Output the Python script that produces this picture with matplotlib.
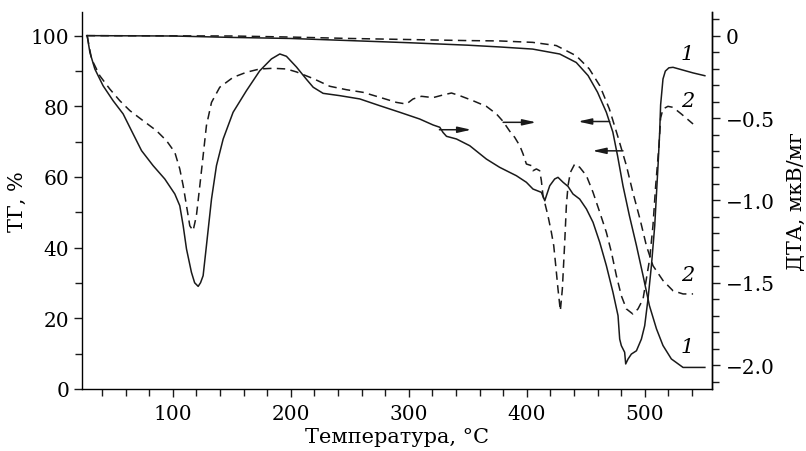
import matplotlib
matplotlib.use("Agg")
import matplotlib.pyplot as plt
from matplotlib.ticker import MultipleLocator

plt.rcParams['font.family'] = ['DejaVu Serif']
plt.rcParams['mathtext.fontset'] = 'dejavuserif'

# TG curves (left axis), %
t_tg1 = [27, 100, 150, 200, 250, 300, 350, 377, 405, 428, 442, 452, 460, 467.5, 473, 477,
         481.6, 487, 493, 498.6, 504, 510, 515.5, 522.6, 532.5, 551]
tg1 = [100, 99.9, 99.5, 99.2, 98.6, 98.0, 97.3, 96.8, 96.2, 94.8, 92.4, 88.7, 84.0, 78.3, 72.7, 66.0,
       57.5, 49.1, 40.6, 32.1, 23.6, 17.0, 12.3, 8.5, 6.1, 6.1]
t_tg2 = [27, 150, 200, 250, 300, 350, 377, 405, 425, 442, 453, 462, 470, 477, 484.5, 490,
         496, 501.4, 507, 515.5, 524, 532.5, 541]
tg2 = [100, 99.9, 99.6, 99.2, 98.9, 98.6, 98.5, 98.1, 97.2, 94.3, 90.6, 85.8, 79.3, 71.7, 63.2, 55.6,
       48.1, 40.6, 34.9, 30.7, 27.8, 26.9, 26.9]

# DTA curves (right axis), мкВ/мг
t_dta1 = [27.4, 29.7, 33.9, 40.9, 49.4, 57.9, 65, 73.5, 83.3, 93.2, 101.7, 105.9, 108.8, 111.6,
          115.8, 118.5, 121.5, 123.5, 125.7, 128.5, 132.8, 137, 142.7, 151.1, 162.4, 173.7, 183.6,
          190.7, 196.3, 204.8, 213.3, 219, 227.4, 241.5, 258.5, 275.4, 292.4, 309.3, 320.6, 326.3,
          329, 332, 340.4, 351.7, 365.8, 377, 385.6, 391.2, 399.7, 405.3, 412.4, 415.3, 416.7,
          419.5, 423.7, 426.5, 430.8, 435, 439.2, 444.9, 450.6, 456.2, 461.9, 467.5, 473.1, 477.4,
          478.8, 480.2, 483, 483.9, 485.9, 488.7, 493, 497.2, 500, 502.8, 505.7, 508.5, 511.3,
          512.7, 513.5, 515.5, 517.5, 520.5, 524, 531, 541, 551]
dta1 = [0, -0.101, -0.202, -0.304, -0.395, -0.475, -0.577, -0.698, -0.789, -0.870, -0.961, -1.032,
        -1.154, -1.295, -1.437, -1.500, -1.522, -1.500, -1.457, -1.275, -0.992, -0.789, -0.627,
        -0.465, -0.334, -0.213, -0.141, -0.111, -0.125, -0.190, -0.265, -0.313, -0.350, -0.364,
        -0.384, -0.425, -0.465, -0.506, -0.542, -0.556, -0.587, -0.611, -0.627, -0.668, -0.749,
        -0.799, -0.830, -0.850, -0.890, -0.931, -0.951, -1.002, -0.971, -0.911, -0.870, -0.860,
        -0.890, -0.915, -0.961, -0.992, -1.052, -1.133, -1.255, -1.396, -1.558, -1.700, -1.842,
        -1.882, -1.922, -1.993, -1.963, -1.933, -1.913, -1.842, -1.761, -1.599, -1.396, -1.154,
        -0.789, -0.587, -0.420, -0.263, -0.215, -0.195, -0.192, -0.206, -0.226, -0.243]
t_dta2 = [27.4, 31.1, 38.1, 46.6, 55.1, 63.6, 74.8, 86.2, 94.7, 101.7, 105.9, 108.8, 111.6, 114.4,
          117.2, 120, 122.9, 125.7, 128.5, 132.8, 139.8, 151.1, 162.4, 173.7, 185, 196.3, 204.8,
          218.9, 233, 247.2, 261.3, 275.4, 289.6, 298, 303.7, 310.8, 320.6, 329, 336.2, 343.2,
          354.5, 365.8, 374.3, 379.9, 385.6, 389.8, 394.1, 396.9, 399.7, 404, 405.3, 408.2, 411,
          412.4, 413.8, 418, 420.9, 422.9, 424.6, 426.5, 428.5, 430.2, 432.2, 433.6, 435, 437,
          440.7, 444.9, 450.6, 456.2, 461.9, 467.5, 471.8, 476, 480.2, 484.5, 490, 494.3, 498.6,
          501.4, 504.2, 507, 509.3, 512.1, 513.5, 515.5, 519.7, 524, 531, 541]
dta2 = [0, -0.141, -0.243, -0.324, -0.395, -0.455, -0.516, -0.577, -0.638, -0.708, -0.809, -0.911,
        -1.032, -1.154, -1.184, -1.093, -0.911, -0.729, -0.546, -0.405, -0.313, -0.253, -0.222,
        -0.202, -0.198, -0.202, -0.220, -0.260, -0.307, -0.328, -0.344, -0.374, -0.405, -0.415,
        -0.384, -0.368, -0.376, -0.360, -0.348, -0.364, -0.395, -0.429, -0.475, -0.520, -0.580,
        -0.617, -0.668, -0.718, -0.779, -0.789, -0.820, -0.809, -0.820, -0.880, -0.971, -1.093,
        -1.194, -1.275, -1.396, -1.538, -1.670, -1.538, -1.255, -1.032, -0.911, -0.830, -0.779,
        -0.799, -0.850, -0.951, -1.072, -1.194, -1.315, -1.457, -1.579, -1.659, -1.690, -1.659,
        -1.599, -1.477, -1.356, -1.154, -0.911, -0.668, -0.500, -0.445, -0.429, -0.435, -0.475,
        -0.536]

dash = (0, (5.5, 3.5))
fs = 15
tfs = 14.5

fig = plt.figure(figsize=(8.06, 4.52), dpi=100)
ax = fig.add_axes([0.1017, 0.1372, 0.7816, 0.8341])
ax2 = ax.twinx()

ax.plot(t_tg1, tg1, color='#1a1a1a', lw=1.1)
ax.plot(t_tg2, tg2, color='#1a1a1a', lw=1.1, ls=dash)
ax2.plot(t_dta1, dta1, color='#1a1a1a', lw=1.1)
ax2.plot(t_dta2, dta2, color='#1a1a1a', lw=1.1, ls=dash)

ax.set_xlim(23, 557)
ax.set_ylim(0, 106.7)
ax2.set_ylim(-2.145, 0.144)

ax.xaxis.set_major_locator(MultipleLocator(100))
ax.xaxis.set_minor_locator(MultipleLocator(20))
ax.yaxis.set_major_locator(MultipleLocator(20))
ax.yaxis.set_minor_locator(MultipleLocator(10))
ax2.yaxis.set_major_locator(MultipleLocator(0.5))
ax2.yaxis.set_minor_locator(MultipleLocator(0.1))
ax2.set_yticks([0, -0.5, -1.0, -1.5, -2.0])
ax2.set_yticklabels(['0', '\u22120.5', '\u22121.0', '\u22121.5', '\u22122.0'])

for a in (ax, ax2):
    a.spines['top'].set_visible(False)
    for s in a.spines.values():
        s.set_linewidth(1.0)
    a.tick_params(which='major', direction='out', length=6, width=1.0, labelsize=tfs, color='#1a1a1a')
    a.tick_params(which='minor', direction='out', length=5, width=1.0, color='#1a1a1a')
ax2.spines['left'].set_visible(False)
ax2.spines['bottom'].set_visible(False)
ax.tick_params(axis='y', which='major', pad=3)
ax.tick_params(axis='x', which='major', pad=5)
ax2.tick_params(axis='y', which='major', pad=4)

ax.set_xlabel('Температура, °C', fontsize=fs, labelpad=3)
ax.set_ylabel('ТГ, %', fontsize=fs, labelpad=3)
ax2.set_ylabel('ДТА, мкВ/мг', fontsize=fs, labelpad=9)

# arrows showing which axis each curve belongs to
arr = dict(arrowstyle='-|>,head_length=0.8,head_width=0.18', color='#1a1a1a', lw=1.1, shrinkA=0, shrinkB=0)
ax2.annotate('', xy=(353, -0.571), xytext=(326, -0.571), arrowprops=arr)
ax2.annotate('', xy=(408, -0.526), xytext=(380, -0.526), arrowprops=arr)
ax.annotate('', xy=(443.5, 75.7), xytext=(470.3, 75.7), arrowprops=arr)
ax.annotate('', xy=(455.7, 67.4), xytext=(481.6, 67.4), arrowprops=arr)

# curve numbers
for yv, lab in [(-0.111, '1'), (-0.396, '2'), (-1.447, '2'), (-1.89, '1')]:
    ax2.text(536.4, yv, lab, fontsize=fs, style='italic', ha='center', va='center')

fig.savefig('out.png', dpi=100)
